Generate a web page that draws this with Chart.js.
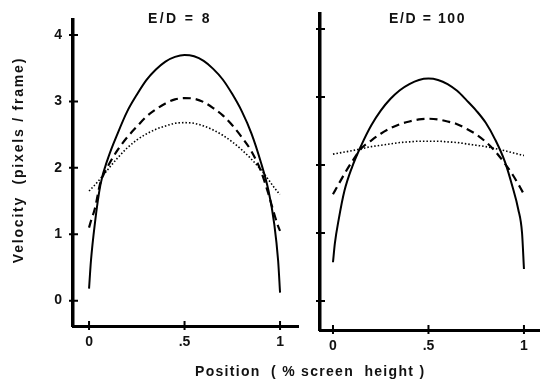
<!DOCTYPE html>
<html lang="en">
<head>
<meta charset="UTF-8">
<title>Velocity profiles</title>
<script src="https://cdn.jsdelivr.net/npm/chart.js"></script>
<style>
  body { margin: 0; background: #fff; }
  #wrap { position: relative; width: 540px; height: 383px; overflow: hidden;
          font-family: "Liberation Sans", Arial, sans-serif; font-weight: bold; color: #111; }
  canvas { position: absolute; }
  .lbl { position: absolute; white-space: pre; font-size: 14px; }
</style>
</head>
<body>
<div id="wrap">
  <canvas id="left" width="300" height="360" style="left:0;top:0"></canvas>
  <canvas id="right" width="240" height="364" style="left:300px;top:0"></canvas>
  <div class="lbl" style="left:148px;top:10px;letter-spacing:2.4px">E/D = 8</div>
  <div class="lbl" style="left:389px;top:10px;letter-spacing:1.6px">E/D = 100</div>
  <div class="lbl" style="left:-112px;top:152px;width:260px;text-align:center;transform:rotate(-90deg);letter-spacing:1.8px">Velocity  (pixels / frame)</div>
  <div class="lbl" style="left:195px;top:363px;letter-spacing:1.3px">Position  ( % screen  height )</div>
</div>
<script>
// sample positions (fraction of screen height)
const positions = [0, 0.01, 0.03, 0.06, 0.1, 0.15, 0.2, 0.25, 0.3, 0.35, 0.4, 0.45, 0.5,
                   0.55, 0.6, 0.65, 0.7, 0.75, 0.8, 0.85, 0.9, 0.94, 0.97, 0.99, 1];

// E/D = 8
const ed8Solid  = [0.18, 0.6, 1.15, 1.75, 2.15, 2.52, 2.85, 3.1, 3.32, 3.48, 3.6, 3.67, 3.7,
                   3.68, 3.61, 3.49, 3.33, 3.11, 2.85, 2.52, 2.08, 1.65, 1.15, 0.6, 0.12];
const ed8Dashed = [1.1, 1.2, 1.38, 1.78, 2.03, 2.27, 2.46, 2.62, 2.77, 2.88, 2.97, 3.03, 3.05,
                   3.04, 2.99, 2.9, 2.79, 2.64, 2.46, 2.25, 1.95, 1.6, 1.3, 1.12, 1.05];
const ed8Dotted = [1.65, 1.68, 1.74, 1.84, 1.98, 2.15, 2.3, 2.42, 2.51, 2.58, 2.63, 2.67, 2.68,
                   2.67, 2.63, 2.57, 2.49, 2.39, 2.27, 2.13, 1.97, 1.82, 1.7, 1.63, 1.6];

// E/D = 100
const ed100Solid  = [0.57, 0.85, 1.2, 1.62, 1.97, 2.3, 2.58, 2.8, 2.97, 3.1, 3.19, 3.25, 3.27,
                     3.25, 3.19, 3.09, 2.95, 2.8, 2.62, 2.37, 2.05, 1.68, 1.35, 1.0, 0.47];
const ed100Dashed = [1.57, 1.62, 1.72, 1.87, 2.05, 2.25, 2.36, 2.46, 2.54, 2.6, 2.64, 2.67, 2.68,
                     2.67, 2.64, 2.6, 2.53, 2.45, 2.34, 2.2, 2.02, 1.86, 1.72, 1.62, 1.57];
const ed100Dotted = [2.16, 2.165, 2.175, 2.19, 2.21, 2.24, 2.27, 2.29, 2.31, 2.33, 2.34, 2.35, 2.35,
                     2.35, 2.34, 2.33, 2.31, 2.29, 2.27, 2.24, 2.21, 2.18, 2.16, 2.145, 2.14];

const xTicks = [0, 0.5, 1];
const xTickLabels = ['0', '.5', '1'];
const yTicks = [0, 1, 2, 3, 4];

const FONT = { family: '"Liberation Sans", Arial, sans-serif', weight: 'bold', size: 14 };

// tick marks that cross the axis line
const crossTicks = {
  id: 'crossTicks',
  afterDraw(chart) {
    const { ctx, chartArea: a, scales: { x, y } } = chart;
    ctx.save();
    ctx.strokeStyle = '#000';
    ctx.lineWidth = 2;
    ctx.beginPath();
    x.ticks.forEach(t => {
      const px = x.getPixelForValue(t.value);
      ctx.moveTo(px, a.bottom - 5); ctx.lineTo(px, a.bottom + 4);
    });
    y.ticks.forEach(t => {
      const py = y.getPixelForValue(t.value);
      ctx.moveTo(a.left - 4, py); ctx.lineTo(a.left + 5, py);
    });
    ctx.stroke();
    ctx.restore();
  }
};

const toPts = vals => positions.map((p, i) => ({ x: p, y: vals[i] }));

function lineSet(vals, style) {
  const ds = {
    data: toPts(vals),
    showLine: true,
    borderColor: '#000',
    pointRadius: 0,
    cubicInterpolationMode: 'monotone',
    borderWidth: 2
  };
  if (style === 'dashed') { ds.borderDash = [8, 5]; ds.borderWidth = 2.2; }
  if (style === 'dotted') { ds.borderDash = [1.5, 2]; ds.borderWidth = 1.6; }
  return ds;
}

function makePanel(id, solid, dashed, dotted, o) {
  new Chart(document.getElementById(id), {
    type: 'scatter',
    data: { datasets: [lineSet(solid, 'solid'), lineSet(dashed, 'dashed'), lineSet(dotted, 'dotted')] },
    options: {
      responsive: false,
      animation: false,
      layout: { padding: { top: o.top, right: o.right, left: 0, bottom: 0 } },
      plugins: { legend: { display: false }, tooltip: { enabled: false } },
      scales: {
        x: {
          type: 'linear', min: o.xMin, max: o.xMax,
          afterBuildTicks: s => { s.ticks = xTicks.map(v => ({ value: v })); },
          afterFit: s => { s.height = 34; },
          grid: { display: false, drawTicks: false },
          border: { display: true, width: 3, color: '#000' },
          ticks: { padding: 8, color: '#111', font: FONT,
                   callback: v => xTickLabels[xTicks.indexOf(v)] }
        },
        y: {
          type: 'linear', min: o.yMin, max: o.yMax,
          afterBuildTicks: s => { s.ticks = yTicks.map(v => ({ value: v })); },
          afterFit: s => { s.width = o.yWidth; },
          grid: { display: false, drawTicks: false },
          border: { display: true, width: 3.5, color: '#000' },
          ticks: { display: o.yLabels, padding: 11, color: '#111', font: FONT }
        }
      }
    },
    plugins: [crossTicks]
  });
}

makePanel('left', ed8Solid, ed8Dashed, ed8Dotted,
  { top: 12, right: 2, yWidth: 73, yLabels: true, xMin: -0.084, xMax: 1.094, yMin: -0.382, yMax: 4.235 });
makePanel('right', ed100Solid, ed100Dashed, ed100Dotted,
  { top: 14, right: 0, yWidth: 20, yLabels: false, xMin: -0.068, xMax: 1.084, yMin: -0.426, yMax: 4.22 });
</script>
</body>
</html>
